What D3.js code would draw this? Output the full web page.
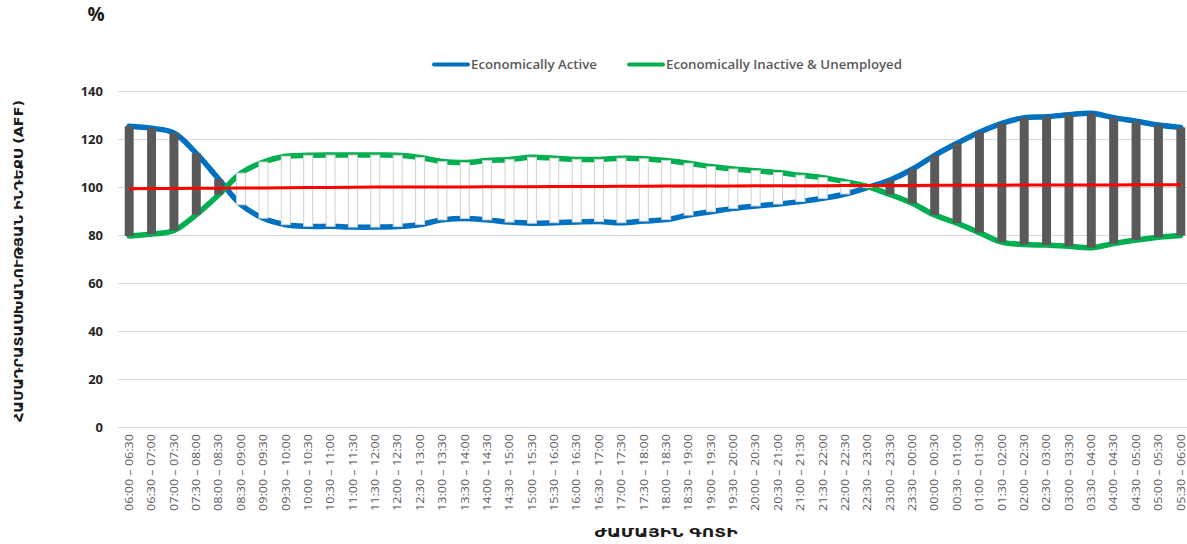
<!DOCTYPE html>
<html>
<head>
<meta charset="utf-8">
<script src="https://cdn.jsdelivr.net/npm/d3@7"></script>
<style>
  html, body { margin: 0; padding: 0; background: #ffffff; overflow: hidden; }
  svg { display: block; }
</style>
</head>
<body>
<svg id="chart" width="1187" height="544"></svg>
<script>
// ---------------- DATA ----------------
const categories = [
  "06:00 – 06:30","06:30 – 07:00","07:00 – 07:30","07:30 – 08:00","08:00 – 08:30","08:30 – 09:00",
  "09:00 – 09:30","09:30 – 10:00","10:00 – 10:30","10:30 – 11:00","11:00 – 11:30","11:30 – 12:00",
  "12:00 – 12:30","12:30 – 13:00","13:00 – 13:30","13:30 – 14:00","14:00 – 14:30","14:30 – 15:00",
  "15:00 – 15:30","15:30 – 16:00","16:00 – 16:30","16:30 – 17:00","17:00 – 17:30","17:30 – 18:00",
  "18:00 – 18:30","18:30 – 19:00","19:00 – 19:30","19:30 – 20:00","20:00 – 20:30","20:30 – 21:00",
  "21:00 – 21:30","21:30 – 22:00","22:00 – 22:30","22:30 – 23:00","23:00 – 23:30","23:30 – 00:00",
  "00:00 – 00:30","00:30 – 01:00","01:00 – 01:30","01:30 – 02:00","02:00 – 02:30","02:30 – 03:00",
  "03:00 – 03:30","03:30 – 04:00","04:00 – 04:30","04:30 – 05:00","05:00 – 05:30","05:30 – 06:00"
];
const activeValues = [
  125.3, 124.5, 122.5, 114.0, 103.3, 92.6, 87.0, 84.3, 83.6, 83.6, 83.3, 83.3,
  83.5, 84.4, 86.3, 86.9, 86.3, 85.4, 84.9, 85.1, 85.4, 85.6, 85.1, 85.8,
  86.4, 88.3, 89.7, 91.1, 92.1, 92.9, 93.9, 95.3, 97.1, 99.8, 102.9, 107.4,
  113.2, 118.2, 122.8, 126.5, 128.9, 129.3, 130.1, 130.7, 128.9, 127.4, 125.8, 124.8
];
const inactiveValues = [
  79.6, 80.4, 81.9, 88.5, 96.8, 105.8, 110.4, 112.8, 113.2, 113.3, 113.3, 113.3,
  113.2, 112.3, 110.6, 110.2, 111.0, 111.5, 112.4, 112.0, 111.5, 111.5, 112.0, 111.8,
  111.0, 109.9, 108.5, 107.5, 106.8, 106.0, 104.9, 103.9, 102.2, 100.2, 96.9, 93.2,
  88.3, 84.9, 81.0, 77.0, 76.0, 75.8, 75.3, 74.7, 76.4, 77.9, 79.1, 79.8
];
const referenceValues = [
  99.3, 99.35, 99.4, 99.45, 99.5, 99.55, 99.6, 99.65, 99.75, 99.8, 99.9, 99.95,
  100.0, 100.0, 100.05, 100.05, 100.1, 100.1, 100.15, 100.2, 100.2, 100.25, 100.3, 100.35,
  100.4, 100.4, 100.45, 100.45, 100.5, 100.5, 100.55, 100.55, 100.6, 100.6, 100.65, 100.65,
  100.7, 100.7, 100.75, 100.75, 100.8, 100.8, 100.8, 100.85, 100.85, 100.9, 100.9, 100.9
];
const yTicks = [0, 20, 40, 60, 80, 100, 120, 140];
const seriesNames = ["Economically Active", "Economically Inactive & Unemployed"];
const yTitle = "ՀԱՄԱԴՐԱՏԱՍԽԱՆՈՒԹՅԱՆ ԻՆԴԵՔՍ (AFF)";
const xTitle = "ԺԱՄԱՅԻՆ ԳՈՏԻ";
const unitLabel = "%";

// ---------------- CHART ----------------
const svg = d3.select("#chart");
const plot = { left: 118, right: 1192, top: 91, bottom: 427 };
const colors = { active: "#0070C0", inactive: "#00B050", ref: "#FF0000", down: "#595959", upStroke: "#D0D0D0", grid: "#D9D9D9" };

const x = d3.scaleBand().domain(categories).range([plot.left, plot.right]).padding(0);
const cx = c => x(c) + x.bandwidth() / 2;
const y = d3.scaleLinear().domain([0, 140]).range([plot.bottom, plot.top]);

// gridlines
svg.append("g").selectAll("line").data(yTicks).join("line")
  .attr("x1", plot.left).attr("x2", 1187)
  .attr("y1", d => y(d) + 0.5).attr("y2", d => y(d) + 0.5)
  .attr("stroke", colors.grid).attr("stroke-width", 1);

// y axis labels
const yAxis = d3.axisLeft(y).tickValues(yTicks).tickSize(0).tickPadding(0);
const yg = svg.append("g").attr("transform", `translate(${plot.left - 15},0)`).call(yAxis);
yg.select(".domain").remove();
yg.selectAll("text")
  .attr("font-family", "'Open Sans', sans-serif").attr("font-size", 13).attr("font-weight", 700)
  .attr("fill", "#262626").attr("dy", "0.36em");

// x axis labels
const xAxis = d3.axisBottom(x).tickSize(0).tickPadding(0);
const xg = svg.append("g").attr("transform", `translate(0,${plot.bottom})`).call(xAxis);
xg.select(".domain").remove();
xg.selectAll("text")
  .attr("font-family", "'Open Sans', sans-serif").attr("font-size", 11.5).attr("font-weight", 400)
  .attr("fill", "#595959")
  .attr("transform", "rotate(-90)")
  .attr("text-anchor", "end").attr("x", -7).attr("y", 0).attr("dy", "0.33em")
  .attr("textLength", 77).attr("lengthAdjust", "spacingAndGlyphs");

// lines
const lineGen = vals => d3.line()
  .x((d, i) => cx(categories[i]))
  .y(d => y(d))
  .curve(d3.curveCatmullRom.alpha(0.5))(vals);

svg.append("path").attr("d", lineGen(activeValues))
  .attr("fill", "none").attr("stroke", colors.active).attr("stroke-width", 5.5)
  .attr("stroke-linejoin", "round").attr("stroke-linecap", "round");
svg.append("path").attr("d", lineGen(inactiveValues))
  .attr("fill", "none").attr("stroke", colors.inactive).attr("stroke-width", 5.5)
  .attr("stroke-linejoin", "round").attr("stroke-linecap", "round");

// up / down bars
const barW = x.bandwidth() * 0.4;
const barData = categories.map((c, i) => ({ c, a: activeValues[i], b: inactiveValues[i] }));
svg.append("g").selectAll("rect").data(barData).join("rect")
  .attr("x", d => cx(d.c) - barW / 2)
  .attr("width", barW)
  .attr("y", d => y(Math.max(d.a, d.b)))
  .attr("height", d => Math.abs(y(d.a) - y(d.b)))
  .attr("fill", d => d.a > d.b ? colors.down : "#FFFFFF")
  .attr("stroke", d => d.a > d.b ? "none" : colors.upStroke)
  .attr("stroke-width", 1);

// reference line
svg.append("path").attr("d", d3.line().x((d, i) => cx(categories[i])).y(d => y(d))(referenceValues))
  .attr("fill", "none").attr("stroke", colors.ref).attr("stroke-width", 3);

// legend
const legend = svg.append("g").attr("font-family", "'Open Sans', sans-serif");
const legendItems = [
  { name: seriesNames[0], color: colors.active, x: 432, w: 126 },
  { name: seriesNames[1], color: colors.inactive, x: 627, w: 236 }
];
legendItems.forEach(it => {
  legend.append("line").attr("x1", it.x + 2).attr("x2", it.x + 36).attr("y1", 64.5).attr("y2", 64.5)
    .attr("stroke", it.color).attr("stroke-width", 4).attr("stroke-linecap", "round");
  legend.append("text").attr("x", it.x + 39).attr("y", 68.5)
    .attr("font-size", 12).attr("font-weight", 600).attr("fill", "#595959")
    .attr("textLength", it.w).attr("lengthAdjust", "spacingAndGlyphs").text(it.name);
});

// unit label
svg.append("text").attr("x", 96).attr("y", 21).attr("text-anchor", "middle")
  .attr("font-family", "'Open Sans', sans-serif").attr("font-size", 19).attr("font-weight", 700)
  .attr("fill", "#1a1a1a").text(unitLabel);

// y title
svg.append("text")
  .attr("transform", "translate(23,261) rotate(-90)")
  .attr("text-anchor", "middle")
  .attr("font-family", "'DejaVu Sans', sans-serif").attr("font-size", 12).attr("font-weight", 700)
  .attr("fill", "#1a1a1a")
  .attr("textLength", 322).attr("lengthAdjust", "spacingAndGlyphs")
  .text(yTitle);

// x title
svg.append("text")
  .attr("x", 666).attr("y", 537).attr("text-anchor", "middle")
  .attr("font-family", "'DejaVu Sans', sans-serif").attr("font-size", 13).attr("font-weight", 700)
  .attr("fill", "#1a1a1a")
  .attr("textLength", 143).attr("lengthAdjust", "spacingAndGlyphs")
  .text(xTitle);
</script>
</body>
</html>
